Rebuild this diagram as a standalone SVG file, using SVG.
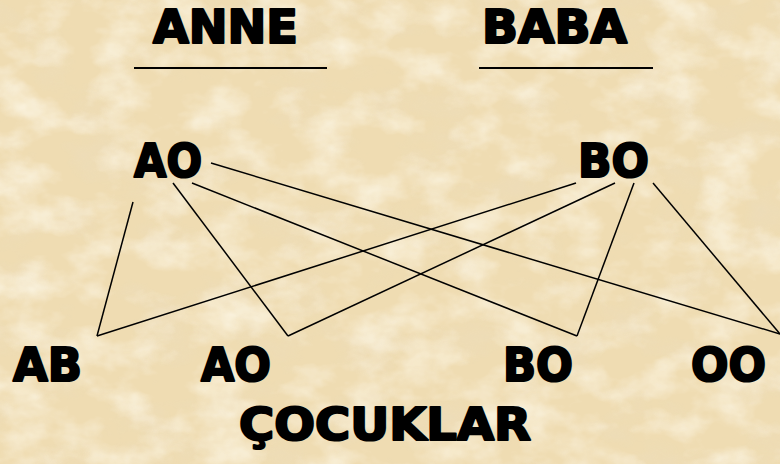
<svg xmlns="http://www.w3.org/2000/svg" width="780" height="464" viewBox="0 0 780 464">
  <defs>
    <filter id="parch" x="0" y="0" width="100%" height="100%">
      <feTurbulence type="fractalNoise" baseFrequency="0.015 0.025" numOctaves="5" seed="7" result="n"/>
      <feColorMatrix in="n" type="matrix" values="0 0 0 0 0.84  0 0 0 0 0.72  0 0 0 0 0.50  0 0 0 -2.2 1.15" result="dark"/>
      <feComposite in="dark" in2="SourceGraphic" operator="in"/>
    </filter>
    <filter id="light" x="0" y="0" width="100%" height="100%">
      <feTurbulence type="fractalNoise" baseFrequency="0.02 0.03" numOctaves="4" seed="21" result="n"/>
      <feColorMatrix in="n" type="matrix" values="0 0 0 0 0.98  0 0 0 0 0.93  0 0 0 0 0.80  0 0 0 2.2 -0.95" result="lt"/>
      <feComposite in="lt" in2="SourceGraphic" operator="in"/>
    </filter>
    <style>
      .t { font-family: "DejaVu Sans", "Liberation Sans", sans-serif; font-weight: bold; fill: #000; stroke: #000; stroke-width: 2.2; stroke-linejoin: round; }
      .c { stroke: #000; stroke-width: 1.5; fill: none; }
      .u { stroke: #000; stroke-width: 2; fill: none; }
    </style>
  </defs>
  <rect width="780" height="464" fill="#efdcb2"/>
  <rect width="780" height="464" fill="#efdcb2" filter="url(#parch)" opacity="0.7"/>
  <rect width="780" height="464" fill="#efdcb2" filter="url(#light)" opacity="0.8"/>

  <g id="anne">
    <text class="t" x="153" y="43" font-size="46" textLength="145" lengthAdjust="spacingAndGlyphs">ANNE</text>
    <line class="u" x1="134" y1="68" x2="327" y2="68"/>
  </g>
  <g id="baba">
    <text class="t" x="482" y="43" font-size="46" textLength="145" lengthAdjust="spacingAndGlyphs">BABA</text>
    <line class="u" x1="479" y1="68" x2="653" y2="68"/>
  </g>
  <g id="anne-ao">
    <text class="t" x="134" y="177" font-size="47" textLength="68" lengthAdjust="spacingAndGlyphs">AO</text>
  </g>
  <g id="baba-bo">
    <text class="t" x="578" y="177" font-size="47" textLength="71" lengthAdjust="spacingAndGlyphs">BO</text>
  </g>
  <g id="child-ab">
    <text class="t" x="13" y="381" font-size="47" textLength="69" lengthAdjust="spacingAndGlyphs">AB</text>
  </g>
  <g id="child-ao">
    <text class="t" x="201" y="381" font-size="47" textLength="70" lengthAdjust="spacingAndGlyphs">AO</text>
  </g>
  <g id="child-bo">
    <text class="t" x="503" y="381" font-size="47" textLength="70" lengthAdjust="spacingAndGlyphs">BO</text>
  </g>
  <g id="child-oo">
    <text class="t" x="691" y="381" font-size="47" textLength="75" lengthAdjust="spacingAndGlyphs">OO</text>
  </g>
  <g id="cocuklar">
    <text class="t" x="239" y="440" font-size="45" textLength="292" lengthAdjust="spacingAndGlyphs">ÇOCUKLAR</text>
  </g>

  <g id="connectors">
    <line class="c" x1="133" y1="202" x2="97" y2="336"/>
    <line class="c" x1="173" y1="183" x2="288" y2="336"/>
    <line class="c" x1="192" y1="183" x2="577" y2="336"/>
    <line class="c" x1="211" y1="163" x2="780" y2="334"/>
    <line class="c" x1="576" y1="183" x2="97" y2="336"/>
    <line class="c" x1="615" y1="183" x2="288" y2="336"/>
    <line class="c" x1="634" y1="183" x2="577" y2="336"/>
    <line class="c" x1="653" y1="183" x2="780" y2="334"/>
  </g>
</svg>
